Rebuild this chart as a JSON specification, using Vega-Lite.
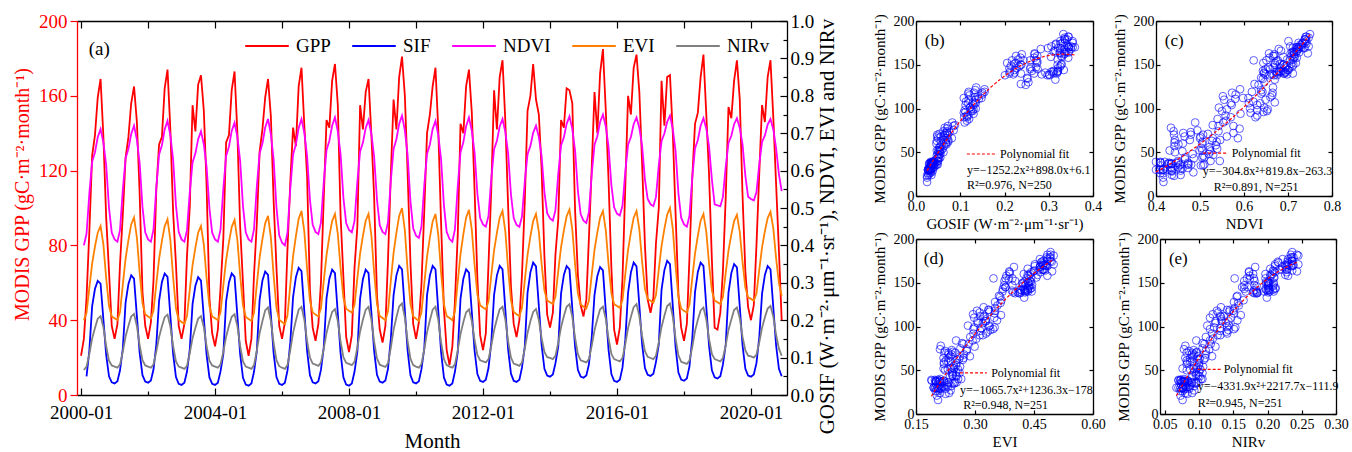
{
"$schema": "https://vega.github.io/schema/vega-lite/v6.json",
"padding": {"left": 12, "top": 12, "right": 0, "bottom": 0},
"config": {
  "font": "Liberation Serif",
  "view": {"stroke": null},
  "axis": {"grid": false, "labelFont": "Liberation Serif", "titleFont": "Liberation Serif", "titleFontWeight": "normal", "labelFlush": false, "labelBound": false, "domainColor": "#000", "tickColor": "#000", "labelColor": "#000", "titleColor": "#000", "domainWidth": 1.3, "tickWidth": 1.2},
  "text": {"font": "Liberation Serif"}
},
"data": {"values": [
{"month":"2000-01-01","GPP":21,"SIF":null,"NDVI":null,"EVI":null,"NIRv":null},
{"month":"2000-02-01","GPP":30,"SIF":null,"NDVI":0.40,"EVI":0.20,"NIRv":0.067},
{"month":"2000-03-01","GPP":52,"SIF":0.05,"NDVI":0.431,"EVI":0.22,"NIRv":0.076},
{"month":"2000-04-01","GPP":88,"SIF":0.12,"NDVI":0.54,"EVI":0.288,"NIRv":0.11},
{"month":"2000-05-01","GPP":128,"SIF":0.237,"NDVI":0.624,"EVI":0.351,"NIRv":0.151},
{"month":"2000-06-01","GPP":139,"SIF":0.284,"NDVI":0.649,"EVI":0.397,"NIRv":0.179},
{"month":"2000-07-01","GPP":159,"SIF":0.305,"NDVI":0.689,"EVI":0.434,"NIRv":0.204},
{"month":"2000-08-01","GPP":169,"SIF":0.298,"NDVI":0.711,"EVI":0.452,"NIRv":0.211},
{"month":"2000-09-01","GPP":138,"SIF":0.201,"NDVI":0.675,"EVI":0.402,"NIRv":0.181},
{"month":"2000-10-01","GPP":95,"SIF":0.108,"NDVI":0.615,"EVI":0.313,"NIRv":0.131},
{"month":"2000-11-01","GPP":66,"SIF":0.05,"NDVI":0.5,"EVI":0.238,"NIRv":0.092},
{"month":"2000-12-01","GPP":37,"SIF":0.034,"NDVI":0.434,"EVI":0.21,"NIRv":0.079},
{"month":"2001-01-01","GPP":30,"SIF":0.031,"NDVI":0.416,"EVI":0.205,"NIRv":0.076},
{"month":"2001-02-01","GPP":38,"SIF":0.037,"NDVI":0.41,"EVI":0.20,"NIRv":0.073},
{"month":"2001-03-01","GPP":70,"SIF":0.066,"NDVI":0.441,"EVI":0.222,"NIRv":0.082},
{"month":"2001-04-01","GPP":97,"SIF":0.125,"NDVI":0.55,"EVI":0.296,"NIRv":0.116},
{"month":"2001-05-01","GPP":127,"SIF":0.248,"NDVI":0.633,"EVI":0.365,"NIRv":0.157},
{"month":"2001-06-01","GPP":138,"SIF":0.297,"NDVI":0.658,"EVI":0.415,"NIRv":0.185},
{"month":"2001-07-01","GPP":156,"SIF":0.32,"NDVI":0.698,"EVI":0.456,"NIRv":0.21},
{"month":"2001-08-01","GPP":165,"SIF":0.311,"NDVI":0.72,"EVI":0.475,"NIRv":0.217},
{"month":"2001-09-01","GPP":146,"SIF":0.211,"NDVI":0.683,"EVI":0.421,"NIRv":0.184},
{"month":"2001-10-01","GPP":108,"SIF":0.113,"NDVI":0.621,"EVI":0.327,"NIRv":0.133},
{"month":"2001-11-01","GPP":55,"SIF":0.053,"NDVI":0.503,"EVI":0.246,"NIRv":0.093},
{"month":"2001-12-01","GPP":37,"SIF":0.036,"NDVI":0.435,"EVI":0.216,"NIRv":0.079},
{"month":"2002-01-01","GPP":30,"SIF":0.033,"NDVI":0.416,"EVI":0.21,"NIRv":0.076},
{"month":"2002-02-01","GPP":39,"SIF":0.039,"NDVI":0.41,"EVI":0.205,"NIRv":0.073},
{"month":"2002-03-01","GPP":61,"SIF":0.068,"NDVI":0.442,"EVI":0.226,"NIRv":0.082},
{"month":"2002-04-01","GPP":110,"SIF":0.135,"NDVI":0.555,"EVI":0.298,"NIRv":0.116},
{"month":"2002-05-01","GPP":134,"SIF":0.252,"NDVI":0.643,"EVI":0.364,"NIRv":0.155},
{"month":"2002-06-01","GPP":138,"SIF":0.302,"NDVI":0.668,"EVI":0.412,"NIRv":0.184},
{"month":"2002-07-01","GPP":164,"SIF":0.325,"NDVI":0.71,"EVI":0.451,"NIRv":0.208},
{"month":"2002-08-01","GPP":174,"SIF":0.316,"NDVI":0.733,"EVI":0.47,"NIRv":0.215},
{"month":"2002-09-01","GPP":142,"SIF":0.212,"NDVI":0.694,"EVI":0.414,"NIRv":0.183},
{"month":"2002-10-01","GPP":98,"SIF":0.11,"NDVI":0.63,"EVI":0.316,"NIRv":0.131},
{"month":"2002-11-01","GPP":70,"SIF":0.048,"NDVI":0.507,"EVI":0.232,"NIRv":0.09},
{"month":"2002-12-01","GPP":37,"SIF":0.03,"NDVI":0.436,"EVI":0.201,"NIRv":0.076},
{"month":"2003-01-01","GPP":30,"SIF":0.027,"NDVI":0.416,"EVI":0.195,"NIRv":0.073},
{"month":"2003-02-01","GPP":38,"SIF":0.033,"NDVI":0.41,"EVI":0.19,"NIRv":0.07},
{"month":"2003-03-01","GPP":74,"SIF":0.062,"NDVI":0.44,"EVI":0.211,"NIRv":0.078},
{"month":"2003-04-01","GPP":101,"SIF":0.122,"NDVI":0.543,"EVI":0.282,"NIRv":0.112},
{"month":"2003-05-01","GPP":155,"SIF":0.243,"NDVI":0.622,"EVI":0.347,"NIRv":0.152},
{"month":"2003-06-01","GPP":141,"SIF":0.292,"NDVI":0.646,"EVI":0.394,"NIRv":0.18},
{"month":"2003-07-01","GPP":166,"SIF":0.315,"NDVI":0.684,"EVI":0.434,"NIRv":0.204},
{"month":"2003-08-01","GPP":171,"SIF":0.306,"NDVI":0.705,"EVI":0.452,"NIRv":0.211},
{"month":"2003-09-01","GPP":152,"SIF":0.206,"NDVI":0.67,"EVI":0.402,"NIRv":0.181},
{"month":"2003-10-01","GPP":112,"SIF":0.108,"NDVI":0.61,"EVI":0.313,"NIRv":0.131},
{"month":"2003-11-01","GPP":52,"SIF":0.047,"NDVI":0.499,"EVI":0.238,"NIRv":0.092},
{"month":"2003-12-01","GPP":33,"SIF":0.03,"NDVI":0.434,"EVI":0.21,"NIRv":0.079},
{"month":"2004-01-01","GPP":26,"SIF":0.027,"NDVI":0.416,"EVI":0.205,"NIRv":0.076},
{"month":"2004-02-01","GPP":35,"SIF":0.033,"NDVI":0.41,"EVI":0.20,"NIRv":0.073},
{"month":"2004-03-01","GPP":57,"SIF":0.063,"NDVI":0.442,"EVI":0.221,"NIRv":0.082},
{"month":"2004-04-01","GPP":84,"SIF":0.11,"NDVI":0.553,"EVI":0.294,"NIRv":0.116},
{"month":"2004-05-01","GPP":135,"SIF":0.251,"NDVI":0.639,"EVI":0.361,"NIRv":0.156},
{"month":"2004-06-01","GPP":139,"SIF":0.301,"NDVI":0.664,"EVI":0.409,"NIRv":0.185},
{"month":"2004-07-01","GPP":163,"SIF":0.325,"NDVI":0.706,"EVI":0.449,"NIRv":0.209},
{"month":"2004-08-01","GPP":173,"SIF":0.316,"NDVI":0.728,"EVI":0.468,"NIRv":0.216},
{"month":"2004-09-01","GPP":140,"SIF":0.211,"NDVI":0.69,"EVI":0.414,"NIRv":0.184},
{"month":"2004-10-01","GPP":90,"SIF":0.109,"NDVI":0.626,"EVI":0.32,"NIRv":0.131},
{"month":"2004-11-01","GPP":60,"SIF":0.046,"NDVI":0.505,"EVI":0.239,"NIRv":0.09},
{"month":"2004-12-01","GPP":29,"SIF":0.028,"NDVI":0.435,"EVI":0.209,"NIRv":0.076},
{"month":"2005-01-01","GPP":21,"SIF":0.025,"NDVI":0.416,"EVI":0.203,"NIRv":0.073},
{"month":"2005-02-01","GPP":30,"SIF":0.031,"NDVI":0.41,"EVI":0.198,"NIRv":0.07},
{"month":"2005-03-01","GPP":64,"SIF":0.062,"NDVI":0.443,"EVI":0.22,"NIRv":0.08},
{"month":"2005-04-01","GPP":92,"SIF":0.118,"NDVI":0.558,"EVI":0.296,"NIRv":0.119},
{"month":"2005-05-01","GPP":130,"SIF":0.254,"NDVI":0.646,"EVI":0.367,"NIRv":0.165},
{"month":"2005-06-01","GPP":142,"SIF":0.306,"NDVI":0.672,"EVI":0.417,"NIRv":0.198},
{"month":"2005-07-01","GPP":159,"SIF":0.33,"NDVI":0.715,"EVI":0.459,"NIRv":0.226},
{"month":"2005-08-01","GPP":169,"SIF":0.321,"NDVI":0.738,"EVI":0.479,"NIRv":0.234},
{"month":"2005-09-01","GPP":149,"SIF":0.215,"NDVI":0.697,"EVI":0.421,"NIRv":0.198},
{"month":"2005-10-01","GPP":104,"SIF":0.112,"NDVI":0.63,"EVI":0.32,"NIRv":0.139},
{"month":"2005-11-01","GPP":68,"SIF":0.048,"NDVI":0.501,"EVI":0.233,"NIRv":0.093},
{"month":"2005-12-01","GPP":37,"SIF":0.03,"NDVI":0.427,"EVI":0.201,"NIRv":0.077},
{"month":"2006-01-01","GPP":30,"SIF":0.027,"NDVI":0.407,"EVI":0.195,"NIRv":0.073},
{"month":"2006-02-01","GPP":39,"SIF":0.033,"NDVI":0.40,"EVI":0.189,"NIRv":0.07},
{"month":"2006-03-01","GPP":78,"SIF":0.065,"NDVI":0.434,"EVI":0.213,"NIRv":0.08},
{"month":"2006-04-01","GPP":114,"SIF":0.14,"NDVI":0.552,"EVI":0.295,"NIRv":0.12},
{"month":"2006-05-01","GPP":143,"SIF":0.262,"NDVI":0.643,"EVI":0.371,"NIRv":0.166},
{"month":"2006-06-01","GPP":133,"SIF":0.315,"NDVI":0.67,"EVI":0.425,"NIRv":0.199},
{"month":"2006-07-01","GPP":165,"SIF":0.34,"NDVI":0.714,"EVI":0.471,"NIRv":0.228},
{"month":"2006-08-01","GPP":175,"SIF":0.331,"NDVI":0.738,"EVI":0.492,"NIRv":0.236},
{"month":"2006-09-01","GPP":144,"SIF":0.223,"NDVI":0.701,"EVI":0.436,"NIRv":0.201},
{"month":"2006-10-01","GPP":117,"SIF":0.118,"NDVI":0.639,"EVI":0.337,"NIRv":0.144},
{"month":"2006-11-01","GPP":56,"SIF":0.053,"NDVI":0.522,"EVI":0.252,"NIRv":0.1},
{"month":"2006-12-01","GPP":36,"SIF":0.034,"NDVI":0.455,"EVI":0.221,"NIRv":0.084},
{"month":"2007-01-01","GPP":29,"SIF":0.031,"NDVI":0.436,"EVI":0.215,"NIRv":0.081},
{"month":"2007-02-01","GPP":38,"SIF":0.037,"NDVI":0.43,"EVI":0.21,"NIRv":0.078},
{"month":"2007-03-01","GPP":60,"SIF":0.067,"NDVI":0.461,"EVI":0.232,"NIRv":0.087},
{"month":"2007-04-01","GPP":106,"SIF":0.128,"NDVI":0.57,"EVI":0.306,"NIRv":0.124},
{"month":"2007-05-01","GPP":147,"SIF":0.259,"NDVI":0.655,"EVI":0.374,"NIRv":0.166},
{"month":"2007-06-01","GPP":143,"SIF":0.311,"NDVI":0.68,"EVI":0.424,"NIRv":0.197},
{"month":"2007-07-01","GPP":168,"SIF":0.335,"NDVI":0.72,"EVI":0.465,"NIRv":0.222},
{"month":"2007-08-01","GPP":177,"SIF":0.326,"NDVI":0.742,"EVI":0.484,"NIRv":0.23},
{"month":"2007-09-01","GPP":155,"SIF":0.217,"NDVI":0.705,"EVI":0.431,"NIRv":0.197},
{"month":"2007-10-01","GPP":96,"SIF":0.112,"NDVI":0.644,"EVI":0.339,"NIRv":0.143},
{"month":"2007-11-01","GPP":63,"SIF":0.047,"NDVI":0.527,"EVI":0.26,"NIRv":0.101},
{"month":"2007-12-01","GPP":31,"SIF":0.028,"NDVI":0.46,"EVI":0.231,"NIRv":0.086},
{"month":"2008-01-01","GPP":23,"SIF":0.025,"NDVI":0.441,"EVI":0.225,"NIRv":0.083},
{"month":"2008-02-01","GPP":32,"SIF":0.031,"NDVI":0.435,"EVI":0.22,"NIRv":0.08},
{"month":"2008-03-01","GPP":68,"SIF":0.062,"NDVI":0.465,"EVI":0.241,"NIRv":0.089},
{"month":"2008-04-01","GPP":90,"SIF":0.115,"NDVI":0.57,"EVI":0.312,"NIRv":0.127},
{"month":"2008-05-01","GPP":155,"SIF":0.258,"NDVI":0.651,"EVI":0.378,"NIRv":0.17},
{"month":"2008-06-01","GPP":142,"SIF":0.31,"NDVI":0.675,"EVI":0.426,"NIRv":0.202},
{"month":"2008-07-01","GPP":162,"SIF":0.335,"NDVI":0.714,"EVI":0.466,"NIRv":0.228},
{"month":"2008-08-01","GPP":169,"SIF":0.326,"NDVI":0.735,"EVI":0.484,"NIRv":0.236},
{"month":"2008-09-01","GPP":139,"SIF":0.22,"NDVI":0.698,"EVI":0.427,"NIRv":0.201},
{"month":"2008-10-01","GPP":106,"SIF":0.118,"NDVI":0.637,"EVI":0.328,"NIRv":0.143},
{"month":"2008-11-01","GPP":53,"SIF":0.054,"NDVI":0.522,"EVI":0.243,"NIRv":0.098},
{"month":"2008-12-01","GPP":35,"SIF":0.036,"NDVI":0.454,"EVI":0.211,"NIRv":0.081},
{"month":"2009-01-01","GPP":28,"SIF":0.033,"NDVI":0.436,"EVI":0.206,"NIRv":0.078},
{"month":"2009-02-01","GPP":37,"SIF":0.039,"NDVI":0.43,"EVI":0.20,"NIRv":0.075},
{"month":"2009-03-01","GPP":72,"SIF":0.07,"NDVI":0.462,"EVI":0.224,"NIRv":0.085},
{"month":"2009-04-01","GPP":118,"SIF":0.15,"NDVI":0.573,"EVI":0.305,"NIRv":0.126},
{"month":"2009-05-01","GPP":158,"SIF":0.267,"NDVI":0.658,"EVI":0.38,"NIRv":0.174},
{"month":"2009-06-01","GPP":142,"SIF":0.32,"NDVI":0.684,"EVI":0.434,"NIRv":0.208},
{"month":"2009-07-01","GPP":170,"SIF":0.345,"NDVI":0.725,"EVI":0.479,"NIRv":0.237},
{"month":"2009-08-01","GPP":181,"SIF":0.336,"NDVI":0.747,"EVI":0.50,"NIRv":0.245},
{"month":"2009-09-01","GPP":160,"SIF":0.226,"NDVI":0.708,"EVI":0.44,"NIRv":0.207},
{"month":"2009-10-01","GPP":119,"SIF":0.119,"NDVI":0.642,"EVI":0.334,"NIRv":0.145},
{"month":"2009-11-01","GPP":71,"SIF":0.053,"NDVI":0.518,"EVI":0.243,"NIRv":0.097},
{"month":"2009-12-01","GPP":38,"SIF":0.034,"NDVI":0.446,"EVI":0.21,"NIRv":0.08},
{"month":"2010-01-01","GPP":30,"SIF":0.031,"NDVI":0.426,"EVI":0.204,"NIRv":0.076},
{"month":"2010-02-01","GPP":39,"SIF":0.037,"NDVI":0.42,"EVI":0.198,"NIRv":0.073},
{"month":"2010-03-01","GPP":59,"SIF":0.069,"NDVI":0.451,"EVI":0.221,"NIRv":0.083},
{"month":"2010-04-01","GPP":99,"SIF":0.125,"NDVI":0.561,"EVI":0.298,"NIRv":0.122},
{"month":"2010-05-01","GPP":140,"SIF":0.267,"NDVI":0.645,"EVI":0.37,"NIRv":0.168},
{"month":"2010-06-01","GPP":150,"SIF":0.32,"NDVI":0.67,"EVI":0.421,"NIRv":0.2},
{"month":"2010-07-01","GPP":165,"SIF":0.345,"NDVI":0.711,"EVI":0.464,"NIRv":0.228},
{"month":"2010-08-01","GPP":175,"SIF":0.336,"NDVI":0.733,"EVI":0.484,"NIRv":0.236},
{"month":"2010-09-01","GPP":141,"SIF":0.223,"NDVI":0.694,"EVI":0.427,"NIRv":0.2},
{"month":"2010-10-01","GPP":92,"SIF":0.115,"NDVI":0.63,"EVI":0.328,"NIRv":0.141},
{"month":"2010-11-01","GPP":46,"SIF":0.047,"NDVI":0.507,"EVI":0.243,"NIRv":0.096},
{"month":"2010-12-01","GPP":24,"SIF":0.028,"NDVI":0.436,"EVI":0.211,"NIRv":0.08},
{"month":"2011-01-01","GPP":16,"SIF":0.025,"NDVI":0.417,"EVI":0.206,"NIRv":0.076},
{"month":"2011-02-01","GPP":26,"SIF":0.031,"NDVI":0.41,"EVI":0.20,"NIRv":0.073},
{"month":"2011-03-01","GPP":50,"SIF":0.062,"NDVI":0.443,"EVI":0.224,"NIRv":0.082},
{"month":"2011-04-01","GPP":86,"SIF":0.115,"NDVI":0.559,"EVI":0.303,"NIRv":0.12},
{"month":"2011-05-01","GPP":145,"SIF":0.258,"NDVI":0.649,"EVI":0.377,"NIRv":0.163},
{"month":"2011-06-01","GPP":140,"SIF":0.311,"NDVI":0.676,"EVI":0.43,"NIRv":0.195},
{"month":"2011-07-01","GPP":165,"SIF":0.336,"NDVI":0.719,"EVI":0.474,"NIRv":0.221},
{"month":"2011-08-01","GPP":174,"SIF":0.327,"NDVI":0.742,"EVI":0.495,"NIRv":0.229},
{"month":"2011-09-01","GPP":151,"SIF":0.222,"NDVI":0.707,"EVI":0.442,"NIRv":0.198},
{"month":"2011-10-01","GPP":110,"SIF":0.119,"NDVI":0.649,"EVI":0.349,"NIRv":0.147},
{"month":"2011-11-01","GPP":62,"SIF":0.056,"NDVI":0.538,"EVI":0.269,"NIRv":0.107},
{"month":"2011-12-01","GPP":32,"SIF":0.038,"NDVI":0.473,"EVI":0.24,"NIRv":0.093},
{"month":"2012-01-01","GPP":24,"SIF":0.035,"NDVI":0.456,"EVI":0.234,"NIRv":0.09},
{"month":"2012-02-01","GPP":33,"SIF":0.041,"NDVI":0.45,"EVI":0.229,"NIRv":0.087},
{"month":"2012-03-01","GPP":70,"SIF":0.072,"NDVI":0.479,"EVI":0.25,"NIRv":0.096},
{"month":"2012-04-01","GPP":111,"SIF":0.142,"NDVI":0.58,"EVI":0.321,"NIRv":0.132},
{"month":"2012-05-01","GPP":163,"SIF":0.268,"NDVI":0.657,"EVI":0.387,"NIRv":0.173},
{"month":"2012-06-01","GPP":142,"SIF":0.32,"NDVI":0.68,"EVI":0.434,"NIRv":0.203},
{"month":"2012-07-01","GPP":170,"SIF":0.345,"NDVI":0.718,"EVI":0.474,"NIRv":0.229},
{"month":"2012-08-01","GPP":179,"SIF":0.336,"NDVI":0.738,"EVI":0.492,"NIRv":0.236},
{"month":"2012-09-01","GPP":146,"SIF":0.227,"NDVI":0.703,"EVI":0.436,"NIRv":0.201},
{"month":"2012-10-01","GPP":101,"SIF":0.122,"NDVI":0.646,"EVI":0.337,"NIRv":0.144},
{"month":"2012-11-01","GPP":58,"SIF":0.057,"NDVI":0.536,"EVI":0.253,"NIRv":0.1},
{"month":"2012-12-01","GPP":38,"SIF":0.038,"NDVI":0.473,"EVI":0.222,"NIRv":0.084},
{"month":"2013-01-01","GPP":31,"SIF":0.035,"NDVI":0.455,"EVI":0.216,"NIRv":0.081},
{"month":"2013-02-01","GPP":40,"SIF":0.041,"NDVI":0.45,"EVI":0.211,"NIRv":0.078},
{"month":"2013-03-01","GPP":64,"SIF":0.073,"NDVI":0.477,"EVI":0.233,"NIRv":0.087},
{"month":"2013-04-01","GPP":104,"SIF":0.13,"NDVI":0.572,"EVI":0.307,"NIRv":0.124},
{"month":"2013-05-01","GPP":152,"SIF":0.274,"NDVI":0.644,"EVI":0.375,"NIRv":0.166},
{"month":"2013-06-01","GPP":160,"SIF":0.328,"NDVI":0.666,"EVI":0.424,"NIRv":0.197},
{"month":"2013-07-01","GPP":177,"SIF":0.354,"NDVI":0.701,"EVI":0.465,"NIRv":0.222},
{"month":"2013-08-01","GPP":158,"SIF":0.344,"NDVI":0.72,"EVI":0.484,"NIRv":0.23},
{"month":"2013-09-01","GPP":150,"SIF":0.238,"NDVI":0.69,"EVI":0.436,"NIRv":0.201},
{"month":"2013-10-01","GPP":121,"SIF":0.134,"NDVI":0.639,"EVI":0.351,"NIRv":0.152},
{"month":"2013-11-01","GPP":74,"SIF":0.07,"NDVI":0.542,"EVI":0.279,"NIRv":0.115},
{"month":"2013-12-01","GPP":43,"SIF":0.052,"NDVI":0.486,"EVI":0.253,"NIRv":0.101},
{"month":"2014-01-01","GPP":36,"SIF":0.049,"NDVI":0.472,"EVI":0.248,"NIRv":0.099},
{"month":"2014-02-01","GPP":44,"SIF":0.055,"NDVI":0.466,"EVI":0.243,"NIRv":0.096},
{"month":"2014-03-01","GPP":75,"SIF":0.085,"NDVI":0.494,"EVI":0.263,"NIRv":0.105},
{"month":"2014-04-01","GPP":94,"SIF":0.13,"NDVI":0.592,"EVI":0.332,"NIRv":0.14},
{"month":"2014-05-01","GPP":147,"SIF":0.271,"NDVI":0.667,"EVI":0.395,"NIRv":0.181},
{"month":"2014-06-01","GPP":143,"SIF":0.321,"NDVI":0.689,"EVI":0.44,"NIRv":0.211},
{"month":"2014-07-01","GPP":164,"SIF":0.345,"NDVI":0.725,"EVI":0.478,"NIRv":0.236},
{"month":"2014-08-01","GPP":163,"SIF":0.336,"NDVI":0.745,"EVI":0.496,"NIRv":0.243},
{"month":"2014-09-01","GPP":156,"SIF":0.231,"NDVI":0.711,"EVI":0.443,"NIRv":0.209},
{"month":"2014-10-01","GPP":99,"SIF":0.13,"NDVI":0.654,"EVI":0.35,"NIRv":0.153},
{"month":"2014-11-01","GPP":64,"SIF":0.067,"NDVI":0.546,"EVI":0.271,"NIRv":0.109},
{"month":"2014-12-01","GPP":48,"SIF":0.049,"NDVI":0.483,"EVI":0.242,"NIRv":0.093},
{"month":"2015-01-01","GPP":42,"SIF":0.046,"NDVI":0.466,"EVI":0.236,"NIRv":0.09},
{"month":"2015-02-01","GPP":51,"SIF":0.052,"NDVI":0.46,"EVI":0.231,"NIRv":0.087},
{"month":"2015-03-01","GPP":84,"SIF":0.082,"NDVI":0.489,"EVI":0.252,"NIRv":0.096},
{"month":"2015-04-01","GPP":122,"SIF":0.155,"NDVI":0.591,"EVI":0.322,"NIRv":0.132},
{"month":"2015-05-01","GPP":162,"SIF":0.268,"NDVI":0.669,"EVI":0.388,"NIRv":0.173},
{"month":"2015-06-01","GPP":140,"SIF":0.318,"NDVI":0.692,"EVI":0.435,"NIRv":0.203},
{"month":"2015-07-01","GPP":172,"SIF":0.342,"NDVI":0.73,"EVI":0.474,"NIRv":0.229},
{"month":"2015-08-01","GPP":185,"SIF":0.333,"NDVI":0.75,"EVI":0.492,"NIRv":0.236},
{"month":"2015-09-01","GPP":152,"SIF":0.225,"NDVI":0.718,"EVI":0.44,"NIRv":0.204},
{"month":"2015-10-01","GPP":115,"SIF":0.121,"NDVI":0.664,"EVI":0.35,"NIRv":0.151},
{"month":"2015-11-01","GPP":68,"SIF":0.056,"NDVI":0.561,"EVI":0.272,"NIRv":0.11},
{"month":"2015-12-01","GPP":35,"SIF":0.038,"NDVI":0.502,"EVI":0.243,"NIRv":0.096},
{"month":"2016-01-01","GPP":27,"SIF":0.035,"NDVI":0.485,"EVI":0.238,"NIRv":0.093},
{"month":"2016-02-01","GPP":36,"SIF":0.041,"NDVI":0.48,"EVI":0.233,"NIRv":0.09},
{"month":"2016-03-01","GPP":62,"SIF":0.073,"NDVI":0.506,"EVI":0.254,"NIRv":0.099},
{"month":"2016-04-01","GPP":112,"SIF":0.148,"NDVI":0.598,"EVI":0.324,"NIRv":0.136},
{"month":"2016-05-01","GPP":160,"SIF":0.274,"NDVI":0.669,"EVI":0.388,"NIRv":0.179},
{"month":"2016-06-01","GPP":150,"SIF":0.328,"NDVI":0.69,"EVI":0.435,"NIRv":0.209},
{"month":"2016-07-01","GPP":175,"SIF":0.354,"NDVI":0.724,"EVI":0.474,"NIRv":0.235},
{"month":"2016-08-01","GPP":182,"SIF":0.344,"NDVI":0.742,"EVI":0.492,"NIRv":0.243},
{"month":"2016-09-01","GPP":162,"SIF":0.239,"NDVI":0.714,"EVI":0.443,"NIRv":0.211},
{"month":"2016-10-01","GPP":124,"SIF":0.136,"NDVI":0.666,"EVI":0.357,"NIRv":0.158},
{"month":"2016-11-01","GPP":80,"SIF":0.072,"NDVI":0.576,"EVI":0.284,"NIRv":0.117},
{"month":"2016-12-01","GPP":51,"SIF":0.054,"NDVI":0.524,"EVI":0.257,"NIRv":0.102},
{"month":"2017-01-01","GPP":44,"SIF":0.051,"NDVI":0.51,"EVI":0.252,"NIRv":0.099},
{"month":"2017-02-01","GPP":52,"SIF":0.057,"NDVI":0.505,"EVI":0.247,"NIRv":0.096},
{"month":"2017-03-01","GPP":81,"SIF":0.088,"NDVI":0.529,"EVI":0.267,"NIRv":0.105},
{"month":"2017-04-01","GPP":100,"SIF":0.135,"NDVI":0.614,"EVI":0.336,"NIRv":0.141},
{"month":"2017-05-01","GPP":168,"SIF":0.282,"NDVI":0.679,"EVI":0.399,"NIRv":0.182},
{"month":"2017-06-01","GPP":144,"SIF":0.334,"NDVI":0.699,"EVI":0.444,"NIRv":0.212},
{"month":"2017-07-01","GPP":170,"SIF":0.359,"NDVI":0.73,"EVI":0.482,"NIRv":0.238},
{"month":"2017-08-01","GPP":171,"SIF":0.35,"NDVI":0.747,"EVI":0.50,"NIRv":0.245},
{"month":"2017-09-01","GPP":140,"SIF":0.237,"NDVI":0.711,"EVI":0.444,"NIRv":0.209},
{"month":"2017-10-01","GPP":97,"SIF":0.128,"NDVI":0.652,"EVI":0.346,"NIRv":0.151},
{"month":"2017-11-01","GPP":54,"SIF":0.06,"NDVI":0.539,"EVI":0.262,"NIRv":0.106},
{"month":"2017-12-01","GPP":36,"SIF":0.041,"NDVI":0.474,"EVI":0.231,"NIRv":0.089},
{"month":"2018-01-01","GPP":29,"SIF":0.038,"NDVI":0.456,"EVI":0.225,"NIRv":0.086},
{"month":"2018-02-01","GPP":38,"SIF":0.044,"NDVI":0.45,"EVI":0.22,"NIRv":0.083},
{"month":"2018-03-01","GPP":73,"SIF":0.076,"NDVI":0.479,"EVI":0.241,"NIRv":0.092},
{"month":"2018-04-01","GPP":116,"SIF":0.15,"NDVI":0.581,"EVI":0.312,"NIRv":0.128},
{"month":"2018-05-01","GPP":145,"SIF":0.275,"NDVI":0.659,"EVI":0.378,"NIRv":0.171},
{"month":"2018-06-01","GPP":151,"SIF":0.329,"NDVI":0.682,"EVI":0.426,"NIRv":0.201},
{"month":"2018-07-01","GPP":170,"SIF":0.354,"NDVI":0.72,"EVI":0.466,"NIRv":0.226},
{"month":"2018-08-01","GPP":182,"SIF":0.345,"NDVI":0.74,"EVI":0.484,"NIRv":0.234},
{"month":"2018-09-01","GPP":150,"SIF":0.236,"NDVI":0.712,"EVI":0.436,"NIRv":0.202},
{"month":"2018-10-01","GPP":118,"SIF":0.131,"NDVI":0.665,"EVI":0.351,"NIRv":0.15},
{"month":"2018-11-01","GPP":72,"SIF":0.066,"NDVI":0.576,"EVI":0.279,"NIRv":0.11},
{"month":"2018-12-01","GPP":36,"SIF":0.047,"NDVI":0.51,"EVI":0.253,"NIRv":0.096},
{"month":"2019-01-01","GPP":35,"SIF":0.044,"NDVI":0.507,"EVI":0.248,"NIRv":0.093},
{"month":"2019-02-01","GPP":44,"SIF":0.05,"NDVI":0.505,"EVI":0.243,"NIRv":0.09},
{"month":"2019-03-01","GPP":66,"SIF":0.081,"NDVI":0.529,"EVI":0.262,"NIRv":0.099},
{"month":"2019-04-01","GPP":106,"SIF":0.135,"NDVI":0.611,"EVI":0.327,"NIRv":0.133},
{"month":"2019-05-01","GPP":154,"SIF":0.274,"NDVI":0.674,"EVI":0.386,"NIRv":0.174},
{"month":"2019-06-01","GPP":148,"SIF":0.326,"NDVI":0.693,"EVI":0.429,"NIRv":0.202},
{"month":"2019-07-01","GPP":168,"SIF":0.35,"NDVI":0.724,"EVI":0.465,"NIRv":0.227},
{"month":"2019-08-01","GPP":179,"SIF":0.341,"NDVI":0.74,"EVI":0.482,"NIRv":0.234},
{"month":"2019-09-01","GPP":158,"SIF":0.236,"NDVI":0.714,"EVI":0.436,"NIRv":0.205},
{"month":"2019-10-01","GPP":107,"SIF":0.133,"NDVI":0.67,"EVI":0.356,"NIRv":0.156},
{"month":"2019-11-01","GPP":66,"SIF":0.07,"NDVI":0.586,"EVI":0.287,"NIRv":0.119},
{"month":"2019-12-01","GPP":47,"SIF":0.052,"NDVI":0.53,"EVI":0.261,"NIRv":0.105},
{"month":"2020-01-01","GPP":40,"SIF":0.049,"NDVI":0.524,"EVI":0.257,"NIRv":0.103},
{"month":"2020-02-01","GPP":48,"SIF":0.055,"NDVI":0.52,"EVI":0.252,"NIRv":0.10},
{"month":"2020-03-01","GPP":80,"SIF":0.085,"NDVI":0.542,"EVI":0.271,"NIRv":0.108},
{"month":"2020-04-01","GPP":119,"SIF":0.155,"NDVI":0.618,"EVI":0.335,"NIRv":0.141},
{"month":"2020-05-01","GPP":155,"SIF":0.271,"NDVI":0.677,"EVI":0.395,"NIRv":0.18},
{"month":"2020-06-01","GPP":146,"SIF":0.321,"NDVI":0.694,"EVI":0.438,"NIRv":0.208},
{"month":"2020-07-01","GPP":170,"SIF":0.345,"NDVI":0.723,"EVI":0.473,"NIRv":0.231},
{"month":"2020-08-01","GPP":179,"SIF":0.336,"NDVI":0.738,"EVI":0.49,"NIRv":0.238},
{"month":"2020-09-01","GPP":148,"SIF":0.233,"NDVI":0.71,"EVI":0.445,"NIRv":0.209},
{"month":"2020-10-01","GPP":113,"SIF":0.133,"NDVI":0.66,"EVI":0.366,"NIRv":0.161},
{"month":"2020-11-01","GPP":77,"SIF":0.07,"NDVI":0.59,"EVI":0.299,"NIRv":0.124},
{"month":"2020-12-01","GPP":40,"SIF":0.05,"NDVI":0.545,"EVI":0.265,"NIRv":0.105}
]},
"spacing": 34,
"hconcat": [
{
  "width": 710, "height": 374,
  "layer": [
    {"layer": [
      {"transform": [{"fold": ["GPP"], "as": ["series", "value"]}],
       "mark": {"type": "line", "strokeWidth": 1.8},
       "encoding": {
         "x": {"field": "month", "type": "temporal",
               "scale": {"type": "utc", "domain": [{"year": 1999, "month": 11, "date": 18, "utc": true}, {"year": 2021, "month": 1, "date": 28, "utc": true}]},
               "axis": {"orient": "bottom", "values": [{"year":2000,"month":1,"date":1,"utc":true},{"year":2002,"month":1,"date":1,"utc":true},{"year":2004,"month":1,"date":1,"utc":true},{"year":2006,"month":1,"date":1,"utc":true},{"year":2008,"month":1,"date":1,"utc":true},{"year":2010,"month":1,"date":1,"utc":true},{"year":2012,"month":1,"date":1,"utc":true},{"year":2014,"month":1,"date":1,"utc":true},{"year":2016,"month":1,"date":1,"utc":true},{"year":2018,"month":1,"date":1,"utc":true},{"year":2020,"month":1,"date":1,"utc":true}],
                        "labelExpr": "utcyear(datum.value) % 4 === 0 ? utcFormat(datum.value, '%Y-%m') : ''",
                        "tickSize": {"condition": {"test": "utcyear(datum.value) % 4 === 0", "value": -7}, "value": -4},
                        "labelOverlap": false,
                        "labelPadding": 15, "labelFontSize": 19, "title": "Month", "titleFontSize": 21, "titlePadding": 5}},
         "y": {"field": "value", "type": "quantitative", "scale": {"domain": [0, 200]},
               "axis": {"orient": "left", "values": [0,10,20,30,40,50,60,70,80,90,100,110,120,130,140,150,160,170,180,190,200],
                        "labelExpr": "datum.value % 20 === 0 ? datum.label : ''",
                        "tickSize": {"condition": {"test": "datum.value % 20 === 0", "value": 7}, "value": 4},
                        "labelOverlap": false,
                        "labelPadding": 3, "labelFontSize": 19, "title": "MODIS GPP (gC·m⁻²·month⁻¹)", "titleFontSize": 20, "titlePadding": 6, "titleY": 173,
                        "labelColor": "#ff0000", "tickColor": "#ff0000", "domainColor": "#ff0000", "titleColor": "#ff0000"}},
         "color": {"field": "series", "type": "nominal",
                   "scale": {"domain": ["GPP", "SIF", "NDVI", "EVI", "NIRv"], "range": ["#ff0000", "#0000ff", "#ff00ff", "#ff8000", "#808080"]},
                   "legend": {"orient": "none", "legendX": 167, "legendY": 2, "direction": "horizontal", "title": null, "symbolType": "stroke", "symbolSize": 1900, "symbolStrokeWidth": 2, "labelFontSize": 19, "labelFont": "Liberation Serif", "columnPadding": 17, "labelOffset": 6, "labelLimit": 0}}
       }},
      {"data": {"values": [{}]},
       "mark": {"type": "text", "text": "(a)", "align": "left", "baseline": "middle", "fontSize": 19},
       "encoding": {"x": {"datum": {"year": 2000, "month": 3, "date": 25, "utc": true}, "type": "temporal"}, "y": {"datum": 185, "type": "quantitative"}}}
    ]},
    {"transform": [{"fold": ["SIF", "NDVI", "EVI", "NIRv"], "as": ["series", "value"]}],
     "mark": {"type": "line", "strokeWidth": 1.8},
     "encoding": {
       "x": {"field": "month", "type": "temporal",
             "scale": {"type": "utc", "domain": [{"year": 1999, "month": 11, "date": 18, "utc": true}, {"year": 2021, "month": 1, "date": 28, "utc": true}]},
             "axis": {"orient": "top", "labels": false, "title": null, "tickSize": -7, "values": [{"year":2000,"month":1,"date":1,"utc":true},{"year":2002,"month":1,"date":1,"utc":true},{"year":2004,"month":1,"date":1,"utc":true},{"year":2006,"month":1,"date":1,"utc":true},{"year":2008,"month":1,"date":1,"utc":true},{"year":2010,"month":1,"date":1,"utc":true},{"year":2012,"month":1,"date":1,"utc":true},{"year":2014,"month":1,"date":1,"utc":true},{"year":2016,"month":1,"date":1,"utc":true},{"year":2018,"month":1,"date":1,"utc":true},{"year":2020,"month":1,"date":1,"utc":true}]}},
       "y": {"field": "value", "type": "quantitative", "scale": {"domain": [0, 1]},
             "axis": {"orient": "right", "values": [0,0.05,0.1,0.15,0.2,0.25,0.3,0.35,0.4,0.45,0.5,0.55,0.6,0.65,0.7,0.75,0.8,0.85,0.9,0.95,1],
                      "labelExpr": "round(datum.value * 100) % 10 === 0 ? format(datum.value, '.1f') : ''",
                      "tickSize": {"condition": {"test": "round(datum.value * 100) % 10 === 0", "value": -7}, "value": -4},
                      "labelOverlap": false,
                      "labelPadding": 10, "labelFontSize": 19, "title": "GOSIF (W·m⁻²·μm⁻¹·sr⁻¹), NDVI, EVI and NIRv", "titleFontSize": 21, "titleAngle": 270, "titleBaseline": "top", "titleAlign": "center", "titleY": 205, "titlePadding": 3}},
       "color": {"field": "series", "type": "nominal"}
     }}
  ],
  "resolve": {"scale": {"x": "independent", "y": "independent"}}
},
{
  "spacing": 0,
  "vconcat": [
    {"spacing": 10, "hconcat": [
      {"width": 177, "height": 175,
       "layer": [
         {"layer": [
           {"mark": {"type": "point", "shape": "circle", "filled": false, "color": "#0000ff", "size": 60, "strokeWidth": 0.9},
            "encoding": {
              "x": {"field": "SIF", "type": "quantitative", "scale": {"domain": [0, 0.4]}, "axis": {"values": [0, 0.1, 0.2, 0.3, 0.4], "format": ".1f", "title": "GOSIF (W·m⁻²·μm⁻¹·sr⁻¹)", "titleFontSize": 15, "labelFontSize": 14, "tickSize": -4, "labelPadding": 7, "titlePadding": 3, "labelOverlap": false}},
              "y": {"field": "GPP", "type": "quantitative", "scale": {"domain": [0, 200]}, "axis": {"values": [0, 50, 100, 150, 200], "title": "MODIS GPP (gC·m⁻²·month⁻¹)", "titleFontSize": 15, "labelFontSize": 14, "tickSize": -4, "labelPadding": 6, "titlePadding": 6, "labelOverlap": false}}}},
           {"data": {"values": [{}]}, "mark": {"type": "text", "text": "(b)", "align": "left", "baseline": "middle", "fontSize": 17},
            "encoding": {"x": {"datum": 0.02, "type": "quantitative"}, "y": {"datum": 177, "type": "quantitative"}}},
           {"data": {"values": [{}]}, "mark": {"type": "rule", "color": "#ff0000", "strokeDash": [3, 2], "strokeWidth": 1.2},
            "encoding": {"x": {"datum": 0.115, "type": "quantitative"}, "x2": {"datum": 0.183}, "y": {"datum": 48, "type": "quantitative"}}},
           {"data": {"values": [{}]}, "mark": {"type": "text", "text": "Polynomial fit", "align": "left", "baseline": "middle", "fontSize": 12},
            "encoding": {"x": {"datum": 0.19, "type": "quantitative"}, "y": {"datum": 48, "type": "quantitative"}}},
           {"data": {"values": [{}]}, "mark": {"type": "text", "text": "y=−1252.2x²+898.0x+6.1", "align": "left", "baseline": "middle", "fontSize": 12},
            "encoding": {"x": {"datum": 0.115, "type": "quantitative"}, "y": {"datum": 30, "type": "quantitative"}}},
           {"data": {"values": [{}]}, "mark": {"type": "text", "text": "R²=0.976, N=250", "align": "left", "baseline": "middle", "fontSize": 12},
            "encoding": {"x": {"datum": 0.115, "type": "quantitative"}, "y": {"datum": 13, "type": "quantitative"}}}
         ]},
         {"transform": [{"regression": "GPP", "on": "SIF", "method": "poly", "order": 2}],
          "mark": {"type": "line", "color": "#ff0000", "strokeDash": [3, 2], "strokeWidth": 1.2},
          "encoding": {
            "x": {"field": "SIF", "type": "quantitative", "scale": {"domain": [0, 0.4]}, "axis": {"orient": "top", "labels": false, "title": null, "values": [0, 0.1, 0.2, 0.3, 0.4], "tickSize": -4}},
            "y": {"field": "GPP", "type": "quantitative", "scale": {"domain": [0, 200]}, "axis": {"orient": "right", "labels": false, "title": null, "values": [0, 50, 100, 150, 200], "tickSize": -4}}}}
       ],
       "resolve": {"scale": {"x": "independent", "y": "independent"}}},
      {"width": 176, "height": 175,
       "layer": [
         {"layer": [
           {"mark": {"type": "point", "shape": "circle", "filled": false, "color": "#0000ff", "size": 60, "strokeWidth": 0.9},
            "encoding": {
              "x": {"field": "NDVI", "type": "quantitative", "scale": {"domain": [0.4, 0.8]}, "axis": {"values": [0.4, 0.5, 0.6, 0.7, 0.8], "format": ".1f", "title": "NDVI", "titleFontSize": 15, "labelFontSize": 14, "tickSize": -4, "labelPadding": 7, "titlePadding": 3, "labelOverlap": false}},
              "y": {"field": "GPP", "type": "quantitative", "scale": {"domain": [0, 200]}, "axis": {"values": [0, 50, 100, 150, 200], "title": "MODIS GPP (gC·m⁻²·month⁻¹)", "titleFontSize": 15, "labelFontSize": 14, "tickSize": -4, "labelPadding": 6, "titlePadding": 6, "labelOverlap": false}}}},
           {"data": {"values": [{}]}, "mark": {"type": "text", "text": "(c)", "align": "left", "baseline": "middle", "fontSize": 17},
            "encoding": {"x": {"datum": 0.42, "type": "quantitative"}, "y": {"datum": 177, "type": "quantitative"}}},
           {"data": {"values": [{}]}, "mark": {"type": "rule", "color": "#ff0000", "strokeDash": [3, 2], "strokeWidth": 1.2},
            "encoding": {"x": {"datum": 0.507, "type": "quantitative"}, "x2": {"datum": 0.564}, "y": {"datum": 49, "type": "quantitative"}}},
           {"data": {"values": [{}]}, "mark": {"type": "text", "text": "Polynomial fit", "align": "left", "baseline": "middle", "fontSize": 12},
            "encoding": {"x": {"datum": 0.572, "type": "quantitative"}, "y": {"datum": 49, "type": "quantitative"}}},
           {"data": {"values": [{}]}, "mark": {"type": "text", "text": "y=−304.8x²+819.8x−263.3", "align": "left", "baseline": "middle", "fontSize": 12},
            "encoding": {"x": {"datum": 0.506, "type": "quantitative"}, "y": {"datum": 29, "type": "quantitative"}}},
           {"data": {"values": [{}]}, "mark": {"type": "text", "text": "R²=0.891, N=251", "align": "left", "baseline": "middle", "fontSize": 12},
            "encoding": {"x": {"datum": 0.531, "type": "quantitative"}, "y": {"datum": 10, "type": "quantitative"}}}
         ]},
         {"transform": [{"regression": "GPP", "on": "NDVI", "method": "poly", "order": 2}],
          "mark": {"type": "line", "color": "#ff0000", "strokeDash": [3, 2], "strokeWidth": 1.2},
          "encoding": {
            "x": {"field": "NDVI", "type": "quantitative", "scale": {"domain": [0.4, 0.8]}, "axis": {"orient": "top", "labels": false, "title": null, "values": [0.4, 0.5, 0.6, 0.7, 0.8], "tickSize": -4}},
            "y": {"field": "GPP", "type": "quantitative", "scale": {"domain": [0, 200]}, "axis": {"orient": "right", "labels": false, "title": null, "values": [0, 50, 100, 150, 200], "tickSize": -4}}}}
       ],
       "resolve": {"scale": {"x": "independent", "y": "independent"}}}
    ]},
    {"spacing": 10, "hconcat": [
      {"width": 177, "height": 175,
       "layer": [
         {"layer": [
           {"mark": {"type": "point", "shape": "circle", "filled": false, "color": "#0000ff", "size": 60, "strokeWidth": 0.9},
            "encoding": {
              "x": {"field": "EVI", "type": "quantitative", "scale": {"domain": [0.15, 0.6]}, "axis": {"values": [0.15, 0.3, 0.45, 0.6], "format": ".2f", "title": "EVI", "titleFontSize": 15, "labelFontSize": 14, "tickSize": -4, "labelPadding": 7, "titlePadding": 3, "labelOverlap": false}},
              "y": {"field": "GPP", "type": "quantitative", "scale": {"domain": [0, 200]}, "axis": {"values": [0, 50, 100, 150, 200], "title": "MODIS GPP (gC·m⁻²·month⁻¹)", "titleFontSize": 15, "labelFontSize": 14, "tickSize": -4, "labelPadding": 6, "titlePadding": 6, "labelOverlap": false}}}},
           {"data": {"values": [{}]}, "mark": {"type": "text", "text": "(d)", "align": "left", "baseline": "middle", "fontSize": 17},
            "encoding": {"x": {"datum": 0.17, "type": "quantitative"}, "y": {"datum": 177, "type": "quantitative"}}},
           {"data": {"values": [{}]}, "mark": {"type": "rule", "color": "#ff0000", "strokeDash": [3, 2], "strokeWidth": 1.2},
            "encoding": {"x": {"datum": 0.262, "type": "quantitative"}, "x2": {"datum": 0.33}, "y": {"datum": 47, "type": "quantitative"}}},
           {"data": {"values": [{}]}, "mark": {"type": "text", "text": "Polynomial fit", "align": "left", "baseline": "middle", "fontSize": 12},
            "encoding": {"x": {"datum": 0.341, "type": "quantitative"}, "y": {"datum": 47, "type": "quantitative"}}},
           {"data": {"values": [{}]}, "mark": {"type": "text", "text": "y=−1065.7x²+1236.3x−178", "align": "left", "baseline": "middle", "fontSize": 12},
            "encoding": {"x": {"datum": 0.262, "type": "quantitative"}, "y": {"datum": 28, "type": "quantitative"}}},
           {"data": {"values": [{}]}, "mark": {"type": "text", "text": "R²=0.948, N=251", "align": "left", "baseline": "middle", "fontSize": 12},
            "encoding": {"x": {"datum": 0.27, "type": "quantitative"}, "y": {"datum": 10, "type": "quantitative"}}}
         ]},
         {"transform": [{"regression": "GPP", "on": "EVI", "method": "poly", "order": 2}],
          "mark": {"type": "line", "color": "#ff0000", "strokeDash": [3, 2], "strokeWidth": 1.2},
          "encoding": {
            "x": {"field": "EVI", "type": "quantitative", "scale": {"domain": [0.15, 0.6]}, "axis": {"orient": "top", "labels": false, "title": null, "values": [0.15, 0.3, 0.45, 0.6], "tickSize": -4}},
            "y": {"field": "GPP", "type": "quantitative", "scale": {"domain": [0, 200]}, "axis": {"orient": "right", "labels": false, "title": null, "values": [0, 50, 100, 150, 200], "tickSize": -4}}}}
       ],
       "resolve": {"scale": {"x": "independent", "y": "independent"}}},
      {"width": 176, "height": 175,
       "layer": [
         {"mark": {"type": "point", "shape": "circle", "filled": false, "color": "#0000ff", "size": 60, "strokeWidth": 0.9},
          "encoding": {
            "x": {"field": "NIRv", "type": "quantitative", "scale": {"domain": [0.043, 0.3]}, "axis": {"values": [0.05, 0.1, 0.15, 0.2, 0.25, 0.3], "format": ".2f", "title": "NIRv", "titleFontSize": 15, "labelFontSize": 14, "tickSize": -4, "labelPadding": 7, "titlePadding": 3, "labelOverlap": false}},
            "y": {"field": "GPP", "type": "quantitative", "scale": {"domain": [0, 200]}, "axis": {"values": [0, 50, 100, 150, 200], "title": "MODIS GPP (gC·m⁻²·month⁻¹)", "titleFontSize": 15, "labelFontSize": 14, "tickSize": -4, "labelPadding": 6, "titlePadding": 6, "labelOverlap": false}}}},
         {"transform": [{"regression": "GPP", "on": "NIRv", "method": "poly", "order": 2}],
          "mark": {"type": "line", "color": "#ff0000", "strokeDash": [3, 2], "strokeWidth": 1.2},
          "encoding": {
            "x": {"field": "NIRv", "type": "quantitative", "scale": {"domain": [0.043, 0.3]}, "axis": {"orient": "top", "labels": false, "title": null, "values": [0.05, 0.1, 0.15, 0.2, 0.25, 0.3], "tickSize": -4}},
            "y": {"field": "GPP", "type": "quantitative", "scale": {"domain": [0, 200]}, "axis": {"orient": "right", "labels": false, "title": null, "values": [0, 50, 100, 150, 200], "tickSize": -4}}}},
         {"data": {"values": [{}]}, "mark": {"type": "text", "text": "(e)", "align": "left", "baseline": "middle", "fontSize": 17},
          "encoding": {"x": {"datum": 0.056, "type": "quantitative", "scale": {"domain": [0.043, 0.3]}, "axis": null}, "y": {"datum": 177, "type": "quantitative", "scale": {"domain": [0, 200]}, "axis": null}}},
         {"data": {"values": [{}]}, "mark": {"type": "rule", "color": "#ff0000", "strokeDash": [3, 2], "strokeWidth": 1.2},
          "encoding": {"x": {"datum": 0.098, "type": "quantitative", "scale": {"domain": [0.043, 0.3]}, "axis": null}, "x2": {"datum": 0.132}, "y": {"datum": 51, "type": "quantitative", "scale": {"domain": [0, 200]}, "axis": null}}},
         {"data": {"values": [{}]}, "mark": {"type": "text", "text": "Polynomial fit", "align": "left", "baseline": "middle", "fontSize": 12},
          "encoding": {"x": {"datum": 0.136, "type": "quantitative", "scale": {"domain": [0.043, 0.3]}, "axis": null}, "y": {"datum": 51, "type": "quantitative", "scale": {"domain": [0, 200]}, "axis": null}}},
         {"data": {"values": [{}]}, "mark": {"type": "text", "text": "y=−4331.9x²+2217.7x−111.9", "align": "left", "baseline": "middle", "fontSize": 12},
          "encoding": {"x": {"datum": 0.098, "type": "quantitative", "scale": {"domain": [0.043, 0.3]}, "axis": null}, "y": {"datum": 32, "type": "quantitative", "scale": {"domain": [0, 200]}, "axis": null}}},
         {"data": {"values": [{}]}, "mark": {"type": "text", "text": "R²=0.945, N=251", "align": "left", "baseline": "middle", "fontSize": 12},
          "encoding": {"x": {"datum": 0.098, "type": "quantitative", "scale": {"domain": [0.043, 0.3]}, "axis": null}, "y": {"datum": 13, "type": "quantitative", "scale": {"domain": [0, 200]}, "axis": null}}}
       ],
       "resolve": {"scale": {"x": "independent", "y": "independent"}}}
    ]}
  ]
}
]
}
